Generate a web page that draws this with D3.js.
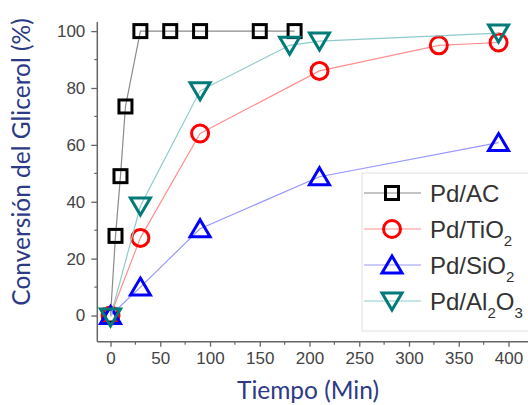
<!DOCTYPE html>
<html>
<head>
<meta charset="utf-8">
<script src="https://cdn.jsdelivr.net/npm/d3@7"></script>
<style>
  body { margin: 0; background: #fff; }
  svg { display: block; }
</style>
</head>
<body>
<script>
// series data (time in min, conversion in %)
const acTime = [0, 5, 10, 15, 30, 60, 90, 150, 185]
const acConv = [0, 28, 49, 73.5, 100, 100, 100, 100, 100]
const tiTime = [0, 30, 90, 210, 330, 390]
const tiConv = [0, 27.3, 64, 86, 95, 96]
const siTime = [0, 30, 90, 210, 390]
const siConv = [0, 10, 30.5, 48.8, 60.8]
const alTime = [0, 30, 90, 180, 210, 390]
const alConv = [-0.5, 38.5, 79, 95, 96.5, 99.3]

const xTicks = [0, 50, 100, 150, 200, 250, 300, 350, 400]
const yTicks = [0, 20, 40, 60, 80, 100]
const seriesNames = ["Pd/AC", "Pd/TiO", "Pd/SiO", "Pd/Al"]

const W = 528, H = 405

const svg = d3.select("body").append("svg")
    .attr("width", W)
    .attr("height", H)

const x = d3.scaleLinear().domain([-13.3, 419.6]).range([97.3, 528])
const y = d3.scaleLinear().domain([-9.2, 103.2]).range([341.7, 22])

const axisColor = "#666"
const tickColor = "#444"

// axes
const xAxis = d3.axisBottom(x).tickValues(xTicks).tickSize(5).tickPadding(5)
const gx = svg.append("g").attr("transform", `translate(0,${y.range()[0]})`).call(xAxis)
const yAxis = d3.axisLeft(y).tickValues(yTicks).tickSize(6).tickPadding(6)
const gy = svg.append("g").attr("transform", `translate(${x.range()[0]},0)`).call(yAxis)

for (const g of [gx, gy]) {
    g.select(".domain").attr("stroke", axisColor).attr("stroke-width", 1.5)
    g.selectAll(".tick line").attr("stroke", axisColor).attr("stroke-width", 1.3)
    g.selectAll(".tick text")
        .attr("fill", tickColor)
        .style("font-family", "Liberation Sans, Arial, sans-serif")
        .style("font-size", "17px")
}
gy.select(".domain").attr("d", `M0,${y.range()[0]}V${y.range()[1]}`)
gx.select(".domain").attr("d", `M${x.range()[0]},0H${x.range()[1]}`)

// minor ticks
const xMinor = d3.range(25, 400, 50)
const yMinor = d3.range(10, 100, 20)
gx.selectAll(".minor").data(xMinor).join("line")
    .attr("x1", d => x(d)).attr("x2", d => x(d))
    .attr("y1", 0).attr("y2", 3)
    .attr("stroke", axisColor).attr("stroke-width", 1.2)
gy.selectAll(".minor").data(yMinor).join("line")
    .attr("y1", d => y(d)).attr("y2", d => y(d))
    .attr("x1", 0).attr("x2", -3)
    .attr("stroke", axisColor).attr("stroke-width", 1.2)

// axis titles
const titleColor = "#2c3a85"
svg.append("text")
    .attr("x", 308).attr("y", 399)
    .attr("text-anchor", "middle")
    .attr("fill", titleColor)
    .style("font-family", "Lato, 'Open Sans', sans-serif")
    .style("font-size", "24.5px")
    .text("Tiempo (Min)")
svg.append("text")
    .attr("transform", "translate(30,162) rotate(-90)")
    .attr("text-anchor", "middle")
    .attr("fill", titleColor)
    .style("font-family", "Lato, 'Open Sans', sans-serif")
    .style("font-size", "24.5px")
    .text("Conversión del Glicerol (%)")

// legend box
svg.append("rect")
    .attr("x", 362).attr("y", 173)
    .attr("width", 180).attr("height", 158)
    .attr("fill", "none")
    .attr("stroke", "#e2e2e2")

// markers
const sym = {
    square: (g, c) => g.append("rect").attr("x", -6.5).attr("y", -6.5).attr("width", 13).attr("height", 13)
        .attr("fill", "none").attr("stroke", c).attr("stroke-width", 3),
    circle: (g, c) => g.append("circle").attr("r", 8.5)
        .attr("fill", "none").attr("stroke", c).attr("stroke-width", 3),
    up: (g, c) => g.append("path").attr("d", "M0,-9L10,8L-10,8Z")
        .attr("fill", "none").attr("stroke", c).attr("stroke-width", 3).attr("stroke-linejoin", "miter"),
    down: (g, c) => g.append("path").attr("d", "M0,9L10,-8L-10,-8Z")
        .attr("fill", "none").attr("stroke", c).attr("stroke-width", 3).attr("stroke-linejoin", "miter")
}

const series = [
    {t: acTime, v: acConv, line: "#8a8a8a", mark: "#000000", shape: "square", name: seriesNames[0], sub: null},
    {t: tiTime, v: tiConv, line: "#ff9090", mark: "#ff0000", shape: "circle", name: seriesNames[1], sub: ["2"]},
    {t: siTime, v: siConv, line: "#9898ff", mark: "#0000ff", shape: "up", name: seriesNames[2], sub: ["2"]},
    {t: alTime, v: alConv, line: "#8fcaca", mark: "#007b78", shape: "down", name: seriesNames[3], sub: ["2", "O", "3"]}
]

const line = d3.line().x(d => x(d[0])).y(d => y(d[1]))

series.forEach((s, i) => {
    const pts = s.t.map((t, j) => [t, s.v[j]])
    svg.append("path")
        .attr("d", line(pts))
        .attr("fill", "none")
        .attr("stroke", s.line)
        .attr("stroke-width", 1.2)
    svg.selectAll(null).data(pts).join("g")
        .attr("transform", d => `translate(${x(d[0])},${y(d[1])})`)
        .each(function() { sym[s.shape](d3.select(this), s.mark) })

    // legend entry
    const ly = 193 + i * 36
    svg.append("line")
        .attr("x1", 364).attr("x2", 421).attr("y1", ly).attr("y2", ly)
        .attr("stroke", s.line).attr("stroke-width", 1.2)
    sym[s.shape](svg.append("g").attr("transform", `translate(392,${ly})`), s.mark)
    const txt = svg.append("text")
        .attr("x", 430).attr("y", ly + 9)
        .attr("fill", "#333")
        .style("font-family", "Liberation Sans, Arial, sans-serif")
        .style("font-size", "24px")
    txt.append("tspan").text(s.name)
    if (s.sub) {
        if (s.sub.length === 1) {
            txt.append("tspan").attr("dy", 8).style("font-size", "15px").text(s.sub[0])
        } else {
            txt.append("tspan").attr("dy", 8).style("font-size", "15px").text(s.sub[0])
            txt.append("tspan").attr("dy", -8).text(s.sub[1])
            txt.append("tspan").attr("dy", 8).style("font-size", "15px").text(s.sub[2])
        }
    }
})
</script>
</body>
</html>
